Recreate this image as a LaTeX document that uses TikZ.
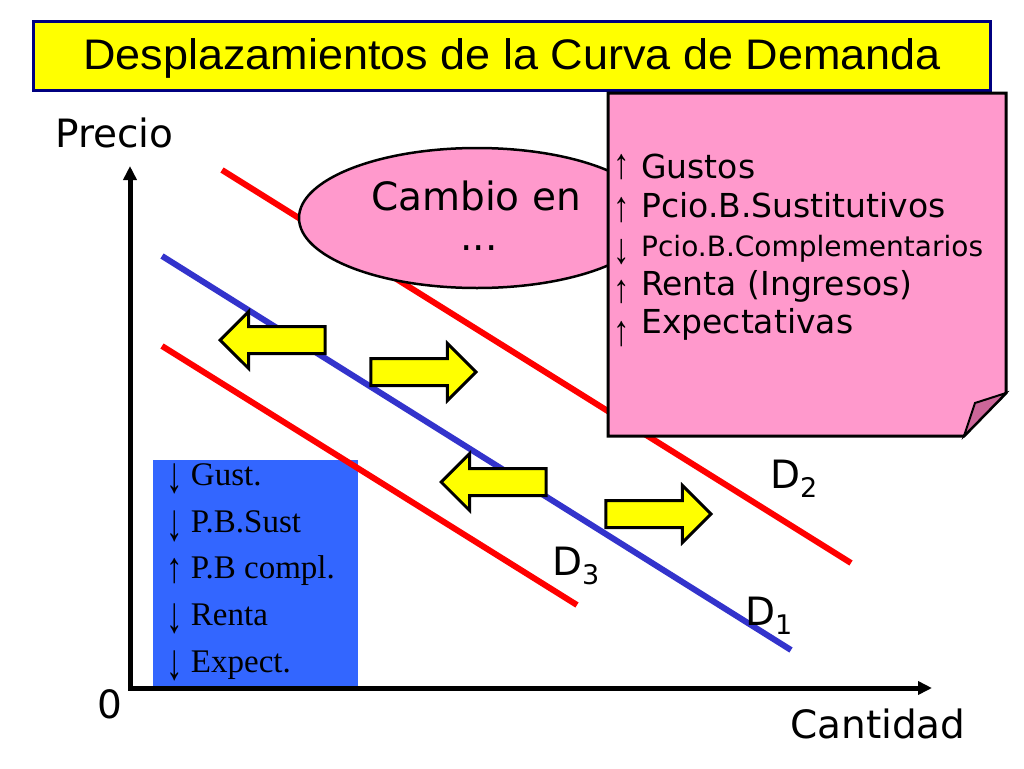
\documentclass[tikz,border=0pt]{standalone}
\usepackage{fontspec}
\setmainfont{DejaVu Sans}
\newfontfamily\titlefont{Liberation Sans}
\newfontfamily\seriffont{Liberation Serif}
\usetikzlibrary{shapes.geometric,shapes.arrows,arrows.meta}
\definecolor{ttlyellow}{HTML}{FFFF00}
\definecolor{ttlnavy}{HTML}{000080}
\definecolor{notepink}{HTML}{FF99CC}
\definecolor{folddark}{HTML}{CC6699}
\definecolor{boxblue}{HTML}{3366FF}
\definecolor{curveblue}{HTML}{3333CC}
\definecolor{curvered}{HTML}{FF0000}
\newcommand\fsz[1]{\fontsize{#1}{#1}\selectfont}
\newcommand\tallarr[3]{\raisebox{#1}{\scalebox{1}[#2]{#3}}}
\tikzset{
  lbl/.style={anchor=base west, inner sep=0pt, font=\fsz{39}},
  notetxt/.style={anchor=base west, inner sep=0pt, font=\fsz{33}},
  notearr/.style={anchor=base, inner sep=0pt, font=\seriffont\fsz{33}},
  boxtxt/.style={anchor=base west, inner sep=0pt, font=\seriffont\fsz{33}},
  curve/.style={line width=6pt},
  yarrow/.style={single arrow, draw=black, fill=ttlyellow, line width=3pt,
    minimum height=105pt, single arrow head extend=15pt, inner xsep=0pt,
    inner ysep=12pt, single arrow tip angle=90, anchor=tip},
  axis/.style={line width=5pt, line join=miter,
    {Triangle[length=14pt,width=13pt]}-{Triangle[length=14pt,width=13pt]}}
}
\begin{document}
\begin{tikzpicture}[x=1pt,y=-1pt]
\useasboundingbox (0,0) rectangle (1024,768);
\fill[white] (0,0) rectangle (1024,768);
% title
\node[draw=ttlnavy, line width=3pt, fill=ttlyellow, minimum width=957pt,
  minimum height=68pt, inner sep=0pt] (title) at (511.5,56) {};
\node[anchor=base, inner sep=0pt, font=\titlefont\fsz{45}] (titletext) at (512,69)
  {\scalebox{1}[0.95]{Desplazamientos de la Curva de Demanda}};
% blue box
\node[fill=boxblue, minimum width=205pt, minimum height=228pt, anchor=north west,
  inner sep=0pt] (bbox) at (153,460) {};
\node[boxtxt] (b1) at (166,485) {\tallarr{-7pt}{1.55}{↓} Gust.};
\node[boxtxt] (b2) at (166,532) {\tallarr{-8pt}{1.6}{↓} P.B.Sust};
\node[boxtxt] (b3) at (166,578) {\tallarr{-4pt}{1.3}{↑} P.B compl.};
\node[boxtxt] (b4) at (166,625) {\tallarr{-7pt}{1.55}{↓} Renta};
\node[boxtxt] (b5) at (166,672) {\tallarr{-7pt}{1.55}{↓} Expect.};
% axes
\coordinate (ytip) at (130,166);
\coordinate (O) at (130,688);
\coordinate (xtip) at (932,688);
\draw[axis] (ytip) -- (O) -- (xtip);
% curves
\coordinate (d2a) at (222,170); \coordinate (d2b) at (851,563);
\coordinate (d1a) at (162,256); \coordinate (d1b) at (791,650);
\coordinate (d3a) at (162,346); \coordinate (d3b) at (577,605);
\draw[curve, curvered] (d2a) -- (d2b);
\draw[curve, curveblue] (d1a) -- (d1b);
\draw[curve, curvered] (d3a) -- (d3b);
% ellipse
\node[ellipse, draw, line width=2.5pt, fill=notepink, minimum width=356pt,
  minimum height=140pt, inner sep=0pt] (ell) at (477,218) {};
\node[anchor=base, inner sep=0pt, font=\fsz{39}] (cambio) at (476,210) {Cambio en};
\node[anchor=base, inner sep=0pt, font=\fsz{39}] (dots) at (479,250) {...};
% note
\draw[line width=3pt, fill=notepink, line join=miter]
  (608,93) -- (1006,93) -- (1006,393) -- (964,436) -- (608,436) -- cycle;
\draw[line width=2pt, fill=folddark, line join=miter]
  (1006,393) -- (975,403) -- (964,436) -- cycle;
\node[notearr] (na1) at (622,178) {\tallarr{0pt}{1.3}{↑}};
\node[notearr] (na2) at (622,221) {\tallarr{0pt}{1.3}{↑}};
\node[notearr] (na3) at (622,263) {\tallarr{0pt}{1.3}{↓}};
\node[notearr] (na4) at (622,302) {\tallarr{0pt}{1.2}{↑}};
\node[notearr] (na5) at (622,345) {\tallarr{0pt}{1.3}{↑}};
\node[notetxt] (n1) at (641,178) {Gustos};
\node[notetxt] (n2) at (641,217) {Pcio.B.Sustitutivos};
\node[notetxt, font=\fsz{28}] (n3) at (641,256) {Pcio.B.Complementarios};
\node[notetxt] (n4) at (641,295) {Renta (Ingresos)};
\node[notetxt] (n5) at (641,333) {Expectativas};
% yellow arrows
\node[yarrow, shape border rotate=180] (al1) at (218,340) {};
\node[yarrow] (ar1) at (478,372) {};
\node[yarrow, shape border rotate=180] (al2) at (439,482) {};
\node[yarrow] (ar2) at (713,514) {};
% labels
\node[lbl] (precio) at (55,147) {Precio};
\node[lbl] (cantidad) at (790,738) {Cantidad};
\node[lbl] (zero) at (97,718) {0};
\node[lbl] (lD2) at (770,488) {D\raisebox{-9pt}{\fsz{27}2}};
\node[lbl] (lD3) at (552,575) {D\raisebox{-9pt}{\fsz{27}3}};
\node[lbl] (lD1) at (745,625) {D\raisebox{-9pt}{\fsz{27}1}};
\end{tikzpicture}
\end{document}
